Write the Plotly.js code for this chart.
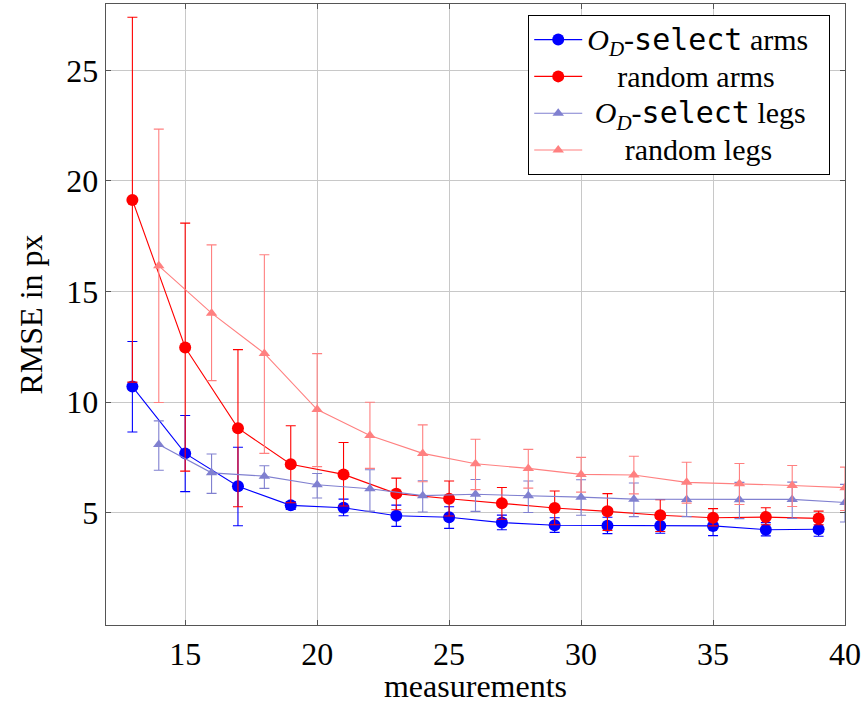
<!DOCTYPE html>
<html>
<head>
<meta charset="utf-8">
<script src="https://cdn.plot.ly/plotly-3.0.1.min.js"></script>
<style>html,body{margin:0;padding:0;background:#fff;}#chart{width:862px;height:704px;}</style>
</head>
<body>
<div id="chart"></div>
<script>
// x positions
const xArms = [13, 15, 17, 19, 21, 23, 25, 27, 29, 31, 33, 35, 37, 39];
const xLegs = [14, 16, 18, 20, 22, 24, 26, 28, 30, 32, 34, 36, 38, 40];

// O_D-select arms
const odArms      = [10.70, 7.68, 6.19, 5.33, 5.22, 4.86, 4.79, 4.55, 4.43, 4.41, 4.41, 4.40, 4.23, 4.25];
const odArmsUpper = [12.74, 9.39, 7.96, 5.50, 5.61, 5.34, 5.27, 4.89, 4.77, 4.79, 4.75, 4.80, 4.55, 4.61];
const odArmsLower = [ 8.65, 5.95, 4.41, 5.15, 4.86, 4.38, 4.29, 4.23, 4.11, 4.05, 4.07, 3.96, 3.95, 3.93];

// random arms
const rndArms      = [19.14, 12.47, 8.82, 7.19, 6.73, 5.86, 5.63, 5.43, 5.21, 5.06, 4.88, 4.77, 4.80, 4.74];
const rndArmsUpper = [27.40, 18.09, 12.37, 8.93, 8.17, 6.56, 6.43, 6.14, 5.98, 5.86, 5.59, 5.18, 5.22, 5.07];
const rndArmsLower = [10.90, 6.88, 5.27, 5.45, 5.30, 5.13, 4.85, 4.70, 4.45, 4.20, 4.15, 4.40, 4.45, 4.45];

// O_D-select legs
const odLegs      = [8.08, 6.80, 6.65, 6.26, 6.08, 5.77, 5.83, 5.77, 5.70, 5.61, 5.60, 5.58, 5.60, 5.46];
const odLegsUpper = [9.15, 7.65, 7.12, 6.77, 6.94, 6.44, 6.50, 6.43, 6.49, 6.34, 6.35, 6.37, 6.38, 6.28];
const odLegsLower = [6.92, 5.87, 6.10, 5.66, 5.07, 5.03, 5.06, 5.01, 4.88, 4.82, 4.82, 4.73, 4.74, 4.58];

// random legs
const rndLegs      = [16.16, 14.02, 12.20, 9.66, 8.49, 7.68, 7.21, 7.00, 6.73, 6.70, 6.37, 6.31, 6.23, 6.13];
const rndLegsUpper = [22.34, 17.11, 16.66, 12.19, 9.99, 8.97, 8.32, 7.86, 7.50, 7.55, 7.28, 7.22, 7.13, 7.06];
const rndLegsLower = [ 9.98, 10.97, 7.68, 7.08, 7.00, 6.40, 6.04, 6.11, 5.93, 5.85, 5.43, 5.37, 5.28, 5.10];

const xTicks = [15, 20, 25, 30, 35, 40];
const yTicks = [5, 10, 15, 20, 25];

const sel = '<span style="font-family:DejaVu Sans Mono">select</span>';
const od = '<i>O</i><sub><i>D</i></sub>-' + sel;
function big(t) { return '<span style="font-size:30px">' + t + '</span>'; }

function diff(a, b) { return a.map((v, i) => Math.max(0, v - b[i])); }

function series(name, x, y, up, lo, color, symbol, size) {
  return {
    type: 'scatter', mode: 'lines+markers', name: name,
    x: x, y: y,
    line: {color: color, width: 1.1},
    marker: {color: color, symbol: symbol, size: size, line: {width: 0}},
    error_y: {type: 'data', symmetric: false,
      array: diff(up, y), arrayminus: diff(y, lo),
      color: color, thickness: 1.1, width: 5}
  };
}

const cBlue = '#0000ff', cRed = '#ff0000', cLBlue = '#8080d0', cLRed = '#ff8080';

const data = [
  series(big(od + ' arms&nbsp;&nbsp;'), xArms, odArms, odArmsUpper, odArmsLower, cBlue, 'circle', 12),
  series(big('&nbsp;&nbsp;&nbsp;&nbsp;random arms'), xArms, rndArms, rndArmsUpper, rndArmsLower, cRed, 'circle', 12),
  series(big('&nbsp;' + od + ' legs'), xLegs, odLegs, odLegsUpper, odLegsLower, cLBlue, 'triangle-up', 10),
  series(big('&nbsp;&nbsp;&nbsp;&nbsp;&nbsp;random legs'), xLegs, rndLegs, rndLegsUpper, rndLegsLower, cLRed, 'triangle-up', 10)
];

function F(size) { return {family: 'Liberation Serif, Times New Roman, serif', size: size, color: '#000'}; }

const layout = {
  width: 862, height: 704,
  margin: {l: 106, r: 17, t: 4, b: 79},
  paper_bgcolor: '#fff', plot_bgcolor: '#fff',
  font: F(32),
  showlegend: true,
  legend: {
    x: 0.98, xanchor: 'right', y: 0.982, yanchor: 'top',
    bgcolor: '#fff', bordercolor: '#000', borderwidth: 1,
    font: F(26), itemwidth: 48, tracegroupgap: 0
  },
  xaxis: {
    range: [12, 40], tickmode: 'array', tickvals: xTicks, ticktext: xTicks.map(String),
    showgrid: true, gridcolor: '#c8c8c8', gridwidth: 1,
    showline: true, linecolor: '#555', linewidth: 1.4, mirror: 'ticks',
    ticks: 'inside', ticklen: 5, tickcolor: '#555',
    zeroline: false, tickfont: F(32),
    title: {text: 'measurements', font: F(32), standoff: 16}
  },
  yaxis: {
    range: [-0.08, 28], tickmode: 'array', tickvals: yTicks, ticktext: yTicks.map(String),
    showgrid: true, gridcolor: '#c8c8c8', gridwidth: 1,
    showline: true, linecolor: '#555', linewidth: 1.4, mirror: 'ticks',
    ticks: 'inside', ticklen: 5, tickcolor: '#555',
    zeroline: false, tickfont: F(32),
    title: {text: 'RMSE in px', font: F(32), standoff: 14}
  }
};

Plotly.newPlot('chart', data, layout, {staticPlot: true, displayModeBar: false});
</script>
</body>
</html>
